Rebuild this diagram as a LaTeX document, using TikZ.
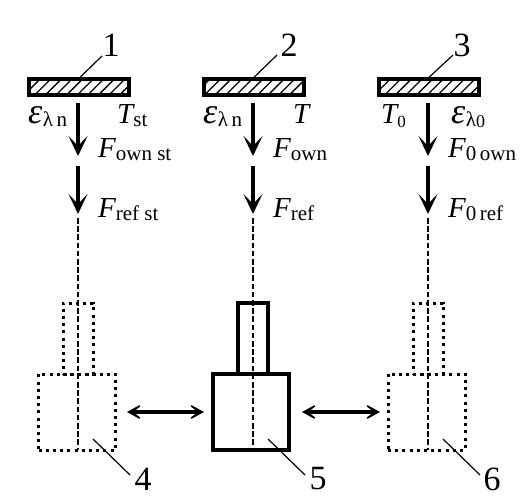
\documentclass[tikz,border=0pt]{standalone}
\usepackage{fontspec}
\setmainfont{Liberation Serif}
\usetikzlibrary{arrows.meta,patterns.meta}
\newcommand{\mainsz}{\fontsize{29}{29}\selectfont}
\newcommand{\subsz}{\fontsize{21}{21}\selectfont}
\newcommand{\lowered}[1]{\raisebox{-3pt}{\subsz #1}}
\newcommand{\labF}[1]{{\mainsz\itshape F}\lowered{#1}}
\newcommand{\labT}[1]{{\mainsz\itshape T}\lowered{#1}}
\newcommand{\labE}[1]{{\fontsize{36}{36}\selectfont\itshape ε}\kern0.5pt\lowered{#1}}
\tikzset{
  x=1pt,y=-1pt,
  bar/.style={draw,line width=3.4pt,inner sep=0pt,minimum width=100pt,minimum height=16pt,
    pattern={Lines[angle=45,distance=7.5pt,line width=1.3pt]}},
  flow/.style={line width=3.4pt,-{Stealth[length=20pt,width=19pt,inset=10pt]}},
  swap/.style={line width=3.4pt,{Stealth[length=21pt,width=23pt,inset=15pt]}-{Stealth[length=21pt,width=23pt,inset=15pt]}},
  axis/.style={line width=2pt,dash pattern=on 5.5pt off 2.7pt},
  leader/.style={line width=1.2pt},
  txt/.style={inner sep=0pt,anchor=base west,font=\mainsz},
  num/.style={inner sep=0pt,font=\fontsize{34}{34}\selectfont},
  solidbox/.style={draw,line width=3.4pt,inner sep=0pt},
  dotbox/.style={draw,line width=3pt,dash pattern=on 3pt off 4.2pt,inner sep=0pt}
}
\begin{document}
\begin{tikzpicture}
\useasboundingbox (0,0) rectangle (529,501);
% bars
\node[bar] (bar1) at (79,87) {};
\node[bar] (bar2) at (254,87) {};
\node[bar] (bar3) at (429,87) {};
% lower boxes
\node[dotbox,minimum width=30pt,minimum height=71pt] (top4) at (78,338.5) {};
\node[dotbox,minimum width=77pt,minimum height=76pt] (box4) at (77,412) {};
\node[solidbox,minimum width=30pt,minimum height=71pt] (top5) at (253,338.5) {};
\node[solidbox,fill=white,minimum width=76pt,minimum height=76pt] (box5) at (251,412) {};
\node[dotbox,minimum width=30pt,minimum height=71pt] (top6) at (428,338.5) {};
\node[dotbox,minimum width=77pt,minimum height=76pt] (box6) at (426.5,412) {};
% flow coordinates
\foreach \i/\x in {1/78,2/253,3/428}{
  \coordinate (a\i) at (\x,103);
  \coordinate (b\i) at (\x,156);
  \coordinate (c\i) at (\x,166);
  \coordinate (d\i) at (\x,214);
  \coordinate (e\i) at (\x,218);
  \coordinate (f\i) at (\x,450);
  \draw[flow] (a\i) -- (b\i);
  \draw[flow] (c\i) -- (d\i);
  \draw[axis] (e\i) -- (f\i);
}
% numbers and leaders
\node[num] (n1) at (111,45) {1};
\node[num] (n2) at (289,45) {2};
\node[num] (n3) at (462,45) {3};
\node[num] (n4) at (143,479) {4};
\node[num] (n5) at (318,479) {5};
\node[num] (n6) at (492,479) {6};
\coordinate (l1) at (102,56); \coordinate (l2) at (277,55); \coordinate (l3) at (453,55);
\coordinate (p4) at (93,439); \coordinate (p5) at (268,439); \coordinate (p6) at (443,439);
\coordinate (q4) at (130,475); \coordinate (q5) at (305,475); \coordinate (q6) at (480,475);
\draw[leader] (l1) -- (bar1.north);
\draw[leader] (l2) -- (bar2.north);
\draw[leader] (l3) -- (bar3.north);
\draw[leader] (p4) -- (q4);
\draw[leader] (p5) -- (q5);
\draw[leader] (p6) -- (q6);
% swap arrows
\coordinate (s1) at (127,412); \coordinate (s2) at (204,412);
\coordinate (s3) at (302,412); \coordinate (s4) at (380,412);
\draw[swap] (s1) -- (s2);
\draw[swap] (s3) -- (s4);
% labels
\node[txt] (e1) at (28,123) {\labE{λ\,n}};
\node[txt] (t1) at (117,123) {\labT{st}};
\node[txt] (f1) at (98,157) {\labF{own st}};
\node[txt] (g1) at (98,217) {\labF{ref st}};
\node[txt] (e2) at (203,123) {\labE{λ\,n}};
\node[txt] (t2) at (293,123) {{\mainsz\itshape T}};
\node[txt] (f2) at (273,157) {\labF{own}};
\node[txt] (g2) at (273,217) {\labF{ref}};
\node[txt] (t3) at (381,123) {{\mainsz\itshape T}\raisebox{-4pt}{\fontsize{17}{17}\selectfont 0}};
\node[txt] (e3) at (451,123) {\labE{λ\raisebox{-1pt}{\fontsize{18}{18}\selectfont 0}}};
\node[txt] (f3) at (448,157) {\labF{0\,own}};
\node[txt] (g3) at (448,217) {\labF{0\,ref}};
\end{tikzpicture}
\end{document}
